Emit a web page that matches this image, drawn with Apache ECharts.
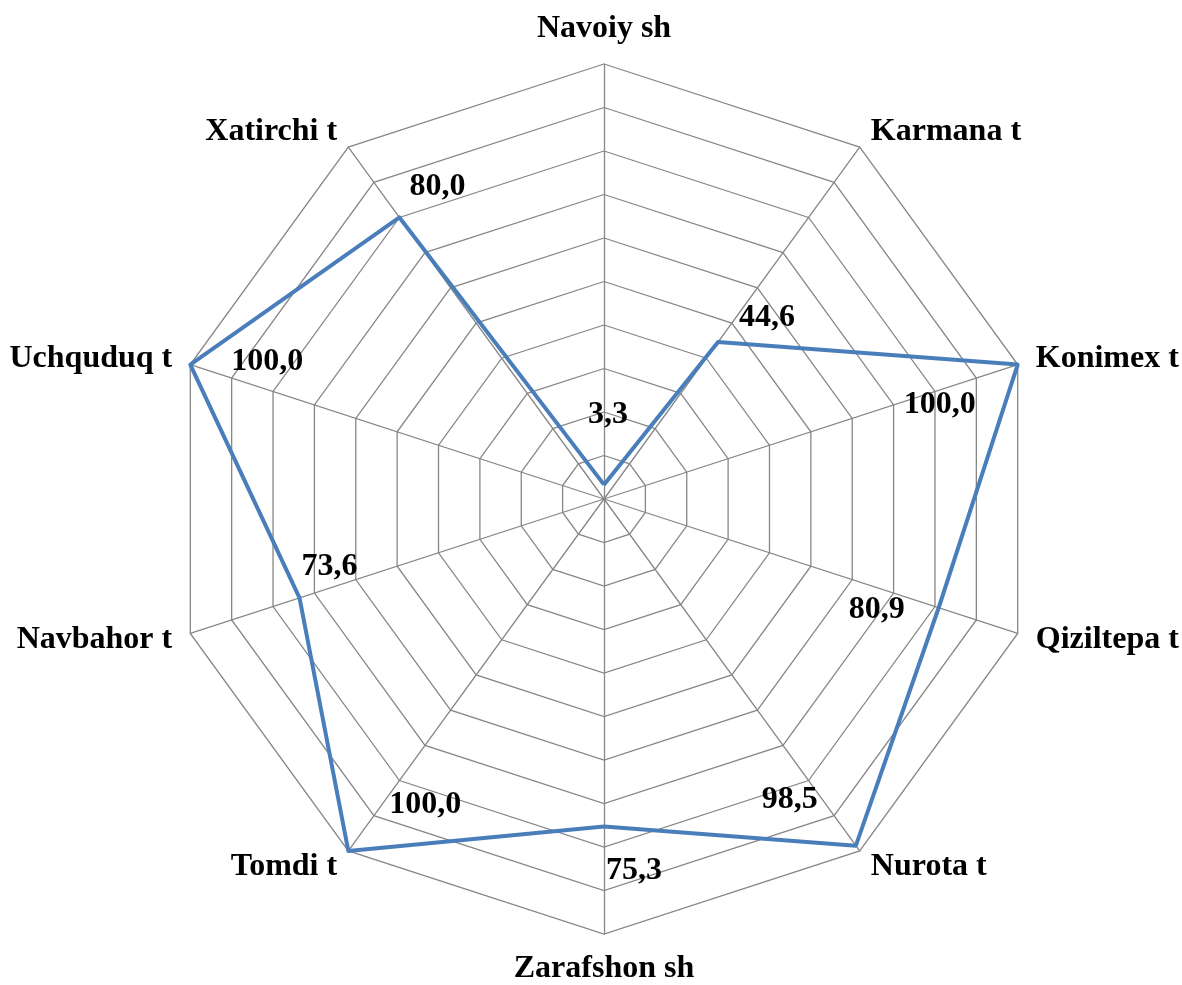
<!DOCTYPE html>
<html>
<head>
<meta charset="utf-8">
<script src="https://cdn.jsdelivr.net/npm/echarts@6/dist/echarts.min.js"></script>
<style>
  html, body { margin: 0; padding: 0; background: #fff; }
  #chart { width: 1182px; height: 985px; }
</style>
</head>
<body>
<div id="chart"></div>
<script>
// indicators listed counter-clockwise from the top (ECharts radar order)
var districts = ['Navoiy sh', 'Xatirchi t', 'Uchquduq t', 'Navbahor t', 'Tomdi t',
                 'Zarafshon sh', 'Nurota t', 'Qiziltepa t', 'Konimex t', 'Karmana t'];
var shares = [3.3, 80.0, 100.0, 73.6, 100.0, 75.3, 98.5, 80.9, 100.0, 44.6];
// label nudges (px) so each value sits where the original put it
var labelShift = [[4, -70], [38, -31], [77, -3], [30, -31], [77, -46],
                  [30, 44], [-66, -46], [-62, 2], [-78, 40], [49, -24]];

var cx = 604, cy = 499;
var chart = echarts.init(document.getElementById('chart'));

function vertexIndex(rect) {
    var x = rect.x + rect.width / 2 - cx;
    var y = rect.y + rect.height / 2 - cy;
    var deg = Math.atan2(x, -y) * 180 / Math.PI;   // clockwise from top
    if (deg < 0) deg += 360;
    var step = 360 / districts.length;
    return (districts.length - Math.round(deg / step)) % districts.length;
}

chart.setOption({
    animation: false,
    radar: {
        center: [cx, cy],
        radius: 435,
        shape: 'polygon',
        splitNumber: 10,
        startAngle: 90,
        nameGap: 19,
        indicator: districts.map(function (d) { return { name: d, min: 0, max: 100 }; }),
        axisName: {
            color: '#000',
            fontSize: 32,
            fontWeight: 'bold',
            fontFamily: 'Liberation Serif'
        },
        axisLine: { lineStyle: { color: '#878787', width: 1.3 } },
        splitLine: { lineStyle: { color: '#878787', width: 1.3 } },
        splitArea: { show: false }
    },
    series: [{
        type: 'radar',
        symbol: 'circle',
        symbolSize: 2,
        itemStyle: { color: 'rgba(0,0,0,0)' },
        lineStyle: { color: '#4a7ebb', width: 4 },
        label: {
            show: true,
            position: 'inside',
            color: '#000',
            fontSize: 32,
            fontWeight: 'bold',
            fontFamily: 'Liberation Serif',
            formatter: function (p) {
                return Number(p.value).toFixed(1).replace('.', ',');
            }
        },
        labelLayout: function (p) {
            var s = labelShift[vertexIndex(p.rect)];
            return { dx: s[0], dy: s[1] };
        },
        data: [{ value: shares, name: 'Ulush' }]
    }]
});
</script>
</body>
</html>
